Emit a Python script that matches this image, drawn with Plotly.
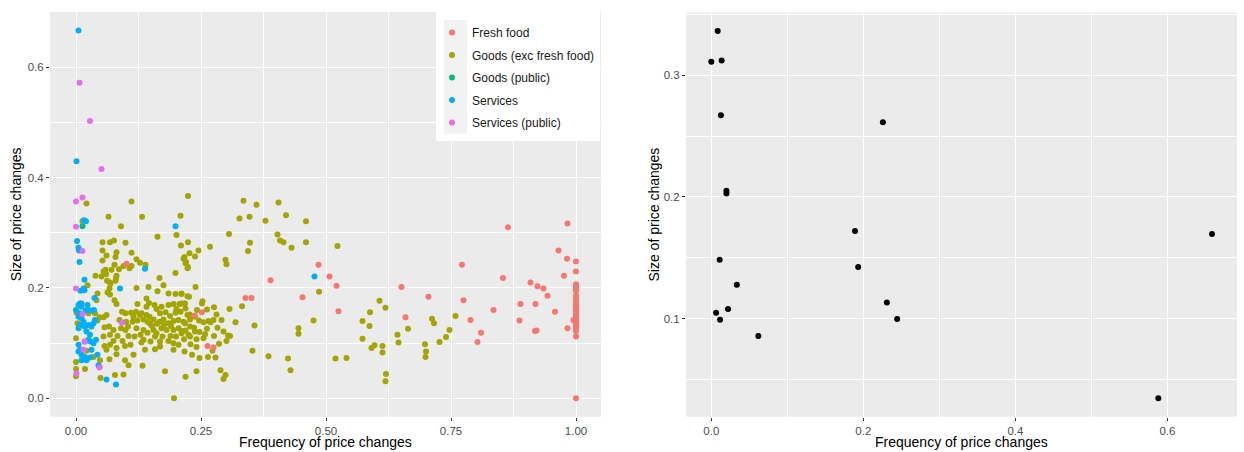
import plotly.graph_objects as go

# ---------------- data ----------------
fresh_pts = [
    (0.101, 0.244), (0.485, 0.242), (0.507, 0.221), (0.389, 0.214), (0.521, 0.204),
    (0.339, 0.182), (0.351, 0.182), (0.453, 0.183), (0.252, 0.156), (0.237, 0.150),
    (0.263, 0.095), (0.275, 0.092), (0.525, 0.158), (0.651, 0.202), (0.659, 0.147),
    (0.705, 0.184), (0.772, 0.242), (0.775, 0.178), (0.789, 0.142), (0.810, 0.119),
    (0.803, 0.102), (0.835, 0.160), (0.854, 0.218), (0.864, 0.310), (0.887, 0.141),
    (0.889, 0.171), (0.909, 0.210), (0.923, 0.203), (0.935, 0.199), (0.943, 0.186),
    (0.919, 0.171), (0.921, 0.123), (0.918, 0.122), (0.958, 0.157), (0.965, 0.268),
    (0.982, 0.253), (0.976, 0.222), (0.983, 0.127), (0.983, 0.317), (0.995, 0.142),
    (1.0, 0.248), (1.0, 0.230), (1.0, 0.207), (1.0, 0.203), (1.0, 0.199), (1.0, 0.195),
    (1.0, 0.186), (1.0, 0.181), (1.0, 0.175), (1.0, 0.169), (1.0, 0.165), (1.0, 0.160),
    (1.0, 0.157), (1.0, 0.152), (1.0, 0.148), (1.0, 0.143), (1.0, 0.139), (1.0, 0.135),
    (1.0, 0.130), (1.0, 0.127), (1.0, 0.122), (1.0, 0.112), (1.0, 0.0),
]

goods_pts = [
    (0.021, 0.353), (0.111, 0.357), (0.224, 0.367), (0.013, 0.321), (0.065, 0.329),
    (0.090, 0.312), (0.132, 0.329), (0.209, 0.331), (0.201, 0.296), (0.224, 0.283),
    (0.163, 0.293), (0.053, 0.283), (0.068, 0.283), (0.076, 0.286), (0.099, 0.282),
    (0.053, 0.268), (0.081, 0.265), (0.079, 0.256), (0.061, 0.259), (0.111, 0.264),
    (0.121, 0.252), (0.128, 0.246), (0.139, 0.242), (0.053, 0.250), (0.077, 0.242),
    (0.071, 0.233), (0.059, 0.233), (0.055, 0.230), (0.086, 0.234), (0.107, 0.236),
    (0.111, 0.240), (0.095, 0.240), (0.039, 0.222), (0.051, 0.221), (0.060, 0.225),
    (0.068, 0.210), (0.080, 0.218), (0.081, 0.222), (0.023, 0.205), (0.121, 0.200),
    (0.145, 0.202), (0.167, 0.218), (0.199, 0.227), (0.175, 0.205), (0.217, 0.256),
    (0.220, 0.247), (0.224, 0.238), (0.215, 0.253), (0.210, 0.277), (0.067, 0.199),
    (0.335, 0.358), (0.361, 0.351), (0.405, 0.355), (0.327, 0.326), (0.347, 0.329),
    (0.379, 0.322), (0.420, 0.332), (0.460, 0.321), (0.306, 0.298), (0.403, 0.297),
    (0.268, 0.275), (0.348, 0.282), (0.408, 0.286), (0.415, 0.283), (0.431, 0.273),
    (0.460, 0.283), (0.523, 0.276), (0.344, 0.267), (0.227, 0.263), (0.245, 0.268),
    (0.238, 0.257), (0.219, 0.245), (0.223, 0.236), (0.299, 0.251), (0.301, 0.243),
    (0.239, 0.202),
    (0.211, 0.189), (0.226, 0.184), (0.211, 0.172), (0.218, 0.172), (0.253, 0.176),
    (0.252, 0.172), (0.486, 0.193), (0.332, 0.167), (0.307, 0.162), (0.281, 0.152),
    (0.227, 0.152), (0.291, 0.142), (0.275, 0.142), (0.265, 0.140), (0.255, 0.138),
    (0.246, 0.141), (0.269, 0.138), (0.319, 0.138), (0.357, 0.132), (0.475, 0.141),
    (0.445, 0.127), (0.445, 0.117), (0.304, 0.114), (0.308, 0.113), (0.301, 0.104),
    (0.276, 0.113), (0.258, 0.116), (0.255, 0.109), (0.241, 0.107), (0.228, 0.112),
    (0.216, 0.107), (0.213, 0.122), (0.238, 0.121), (0.228, 0.130), (0.218, 0.136),
    (0.273, 0.086), (0.353, 0.086), (0.217, 0.085), (0.232, 0.079), (0.247, 0.073),
    (0.264, 0.075), (0.279, 0.074), (0.385, 0.076), (0.424, 0.072), (0.519, 0.072),
    (0.429, 0.051), (0.241, 0.049), (0.289, 0.051), (0.299, 0.042), (0.295, 0.035),
    (0.219, 0.039),
    (0.062, 0.213), (0.079, 0.213), (0.069, 0.208), (0.043, 0.190), (0.063, 0.192),
    (0.068, 0.188), (0.163, 0.194), (0.185, 0.190), (0.199, 0.189), (0.211, 0.190),
    (0.223, 0.185), (0.077, 0.178), (0.081, 0.171), (0.141, 0.181), (0.146, 0.173),
    (0.141, 0.166), (0.123, 0.171), (0.157, 0.169), (0.161, 0.162), (0.171, 0.166),
    (0.185, 0.169), (0.195, 0.171), (0.207, 0.171), (0.217, 0.172), (0.201, 0.162),
    (0.179, 0.156), (0.168, 0.154), (0.001, 0.155), (0.024, 0.161), (0.047, 0.147),
    (0.043, 0.141), (0.055, 0.147), (0.061, 0.151), (0.092, 0.157), (0.099, 0.154),
    (0.110, 0.155), (0.120, 0.157), (0.131, 0.154), (0.141, 0.151), (0.147, 0.148),
    (0.087, 0.142), (0.100, 0.139), (0.104, 0.130), (0.099, 0.124), (0.113, 0.139),
    (0.123, 0.141), (0.135, 0.143), (0.143, 0.139), (0.148, 0.135), (0.155, 0.143),
    (0.167, 0.139), (0.175, 0.143), (0.185, 0.136), (0.195, 0.140), (0.205, 0.142),
    (0.215, 0.139), (0.223, 0.151), (0.209, 0.157), (0.219, 0.163), (0.199, 0.155),
    (0.188, 0.149), (0.171, 0.127), (0.181, 0.124), (0.195, 0.124), (0.205, 0.127),
    (0.211, 0.118), (0.219, 0.123), (0.225, 0.115),
    (0.121, 0.127), (0.135, 0.124), (0.143, 0.119), (0.155, 0.124), (0.161, 0.118),
    (0.135, 0.106), (0.131, 0.101), (0.149, 0.103), (0.168, 0.103), (0.185, 0.104),
    (0.195, 0.100), (0.205, 0.097), (0.168, 0.094), (0.158, 0.089), (0.138, 0.088),
    (0.195, 0.088),
    (0.057, 0.129), (0.066, 0.130), (0.075, 0.124), (0.055, 0.112), (0.068, 0.115),
    (0.057, 0.095), (0.061, 0.088), (0.068, 0.097), (0.081, 0.091), (0.098, 0.095),
    (0.109, 0.097), (0.115, 0.079), (0.098, 0.069), (0.105, 0.060), (0.067, 0.071),
    (0.081, 0.080), (0.133, 0.059), (0.078, 0.042), (0.095, 0.043), (0.049, 0.037),
    (0.178, 0.049), (0.196, 0.000),
    (0.003, 0.136), (0.000, 0.109), (0.000, 0.066), (0.000, 0.053), (0.000, 0.040),
    (0.018, 0.053), (0.021, 0.086), (0.035, 0.075), (0.048, 0.069), (0.041, 0.178),
    (0.025, 0.154), (0.038, 0.154), (0.047, 0.057),
    (0.115, 0.148), (0.128, 0.151), (0.152, 0.131), (0.162, 0.135), (0.176, 0.133),
    (0.190, 0.131), (0.173, 0.112), (0.158, 0.112), (0.189, 0.113), (0.200, 0.112),
    (0.129, 0.115), (0.117, 0.112), (0.090, 0.127), (0.083, 0.113), (0.093, 0.104),
    (0.075, 0.104), (0.105, 0.113), (0.236, 0.128), (0.247, 0.120), (0.262, 0.126),
    (0.283, 0.128), (0.295, 0.121), (0.229, 0.098), (0.241, 0.093), (0.286, 0.099),
    (0.228, 0.143), (0.238, 0.148), (0.262, 0.161), (0.276, 0.165), (0.242, 0.160),
    (0.541, 0.073), (0.607, 0.177), (0.619, 0.164), (0.588, 0.156), (0.573, 0.140),
    (0.587, 0.131), (0.573, 0.108), (0.591, 0.091), (0.597, 0.096), (0.613, 0.095),
    (0.613, 0.083), (0.620, 0.044), (0.619, 0.031), (0.664, 0.126), (0.643, 0.115),
    (0.645, 0.101), (0.712, 0.144), (0.716, 0.136), (0.698, 0.098), (0.700, 0.085),
    (0.699, 0.075), (0.727, 0.102), (0.740, 0.111), (0.747, 0.124), (0.759, 0.149),
]

goods_public_pts = [(0.013, 0.312)]

services_pts = [
    (0.005, 0.667), (0.001, 0.430), (0.016, 0.323), (0.020, 0.321), (0.199, 0.312),
    (0.002, 0.285), (0.005, 0.273), (0.006, 0.268), (0.007, 0.247), (0.138, 0.235),
    (0.017, 0.215), (0.015, 0.199), (0.088, 0.199), (0.477, 0.221), (0.009, 0.195),
    (0.017, 0.196), (0.037, 0.182), (0.011, 0.172), (0.005, 0.169), (0.000, 0.160),
    (0.023, 0.169), (0.020, 0.159), (0.028, 0.159), (0.036, 0.160), (0.061, 0.034),
    (0.080, 0.025), (0.045, 0.060),
    (0.008, 0.172), (0.011, 0.166), (0.008, 0.154), (0.005, 0.148), (0.011, 0.145),
    (0.015, 0.139), (0.009, 0.133), (0.005, 0.127), (0.018, 0.130), (0.025, 0.133),
    (0.031, 0.130), (0.035, 0.136), (0.038, 0.142), (0.021, 0.121), (0.028, 0.115),
    (0.025, 0.106), (0.018, 0.103), (0.005, 0.097), (0.008, 0.088), (0.005, 0.085),
    (0.011, 0.079), (0.018, 0.075), (0.011, 0.069), (0.021, 0.069), (0.028, 0.074),
    (0.031, 0.088), (0.029, 0.103), (0.035, 0.100), (0.040, 0.106), (0.043, 0.079),
]

services_public_pts = [
    (0.007, 0.572), (0.028, 0.503), (0.051, 0.416), (0.013, 0.364), (0.000, 0.357),
    (0.000, 0.311), (0.013, 0.267), (0.000, 0.199), (0.013, 0.153), (0.092, 0.137),
    (0.047, 0.056), (0.001, 0.045), (0.015, 0.088), (0.017, 0.103),
]

right_x = [0.0084, 0.0000, 0.0136, 0.0126, 0.2257, 0.0199, 0.0199, 0.1890, 0.6586, 0.0110,
           0.1932, 0.0335, 0.2309, 0.0220, 0.0063, 0.0115, 0.2445, 0.0618, 0.5880]
right_y = [0.3364, 0.3110, 0.3120, 0.2672, 0.2614, 0.2051, 0.2029, 0.1720, 0.1695, 0.1484,
           0.1424, 0.1279, 0.1134, 0.1079, 0.1049, 0.0992, 0.0997, 0.0858, 0.0346]

left_xticks = [0, 0.25, 0.5, 0.75, 1.0]
left_xticktext = ["0.00", "0.25", "0.50", "0.75", "1.00"]
left_yticks = [0.0, 0.2, 0.4, 0.6]
left_yticktext = ["0.0", "0.2", "0.4", "0.6"]
right_xticks = [0.0, 0.2, 0.4, 0.6]
right_xticktext = ["0.0", "0.2", "0.4", "0.6"]
right_yticks = [0.1, 0.2, 0.3]
right_yticktext = ["0.1", "0.2", "0.3"]

# ---------------- figure ----------------
W, H = 1244, 452
FONT = "Liberation Sans, Arial, sans-serif"
PANEL = "#EBEBEB"

series = [
    ("Goods (exc fresh food)", goods_pts, "#A3A500", 2),
    ("Fresh food", fresh_pts, "#F8766D", 1),
    ("Goods (public)", goods_public_pts, "#00BF7D", 3),
    ("Services", services_pts, "#00B0F6", 4),
    ("Services (public)", services_public_pts, "#E76BF3", 5),
]

fig = go.Figure()
for name, pts, col, rank in series:
    fig.add_trace(go.Scatter(
        x=[p[0] for p in pts], y=[p[1] for p in pts], mode="markers", name=name,
        marker=dict(color=col, size=6, line=dict(width=0)),
        legendrank=rank, legendgroup=name, xaxis="x", yaxis="y",
    ))

fig.add_trace(go.Scatter(
    x=right_x, y=right_y, mode="markers", showlegend=False,
    marker=dict(color="black", size=6, line=dict(width=0)),
    xaxis="x2", yaxis="y2",
))

def px(x):
    return x / W

def py(y):
    return 1 - y / H

axis_common = dict(
    showline=False, zeroline=False, ticks="outside", ticklen=3, tickwidth=1,
    tickcolor="#333333", gridcolor="white", gridwidth=1.1, showgrid=True,
    tickfont=dict(family=FONT, size=11.5, color="#4D4D4D"), automargin=False,
    fixedrange=True,
)

R0, R1 = 686, 1237  # right panel pixel extent
L0, L1 = 50, 601

fig.update_layout(
    width=W, height=H, margin=dict(l=0, r=0, t=0, b=0),
    paper_bgcolor="white", plot_bgcolor=PANEL,
    font=dict(family=FONT),
    xaxis=dict(domain=[px(L0), px(L1)], range=[-0.052, 1.05], anchor="y",
               tickmode="array", tickvals=left_xticks, ticktext=left_xticktext,
               minor=dict(tickvals=[0.125, 0.375, 0.625, 0.875], showgrid=True,
                          gridcolor="white", gridwidth=0.5, ticklen=0),
               **axis_common),
    yaxis=dict(domain=[py(416.7), py(12)], range=[-0.0334, 0.7005], anchor="x",
               tickmode="array", tickvals=left_yticks, ticktext=left_yticktext,
               minor=dict(tickvals=[0.1, 0.3, 0.5], showgrid=True,
                          gridcolor="white", gridwidth=0.5, ticklen=0),
               **axis_common),
    xaxis2=dict(domain=[px(R0), px(R1)], range=[-0.0333, 0.6915], anchor="y2",
                tickmode="array", tickvals=right_xticks, ticktext=right_xticktext,
                minor=dict(tickvals=[0.1, 0.3, 0.5], showgrid=True,
                           gridcolor="white", gridwidth=0.5, ticklen=0),
                **axis_common),
    yaxis2=dict(domain=[py(416.7), py(12.5)], range=[0.0195, 0.3515], anchor="x2",
                tickmode="array", tickvals=right_yticks, ticktext=right_yticktext,
                minor=dict(tickvals=[0.05, 0.15, 0.25, 0.35], showgrid=True,
                           gridcolor="white", gridwidth=0.5, ticklen=0),
                **axis_common),
    showlegend=True,
    legend=dict(x=px(432), y=py(18), xanchor="left", yanchor="top",
                bgcolor="rgba(0,0,0,0)", borderwidth=0,
                font=dict(family=FONT, size=12, color="#1A1A1A"),
                tracegroupgap=3.5),
)

# legend background (white box + grey key column)
fig.add_shape(type="rect", xref="paper", yref="paper", layer="above",
              x0=px(436), x1=px(600), y0=py(141), y1=py(12),
              fillcolor="white", line=dict(width=0))
fig.add_shape(type="rect", xref="paper", yref="paper", layer="above",
              x0=px(444), x1=px(467), y0=py(134), y1=py(20),
              fillcolor="#F2F2F2", line=dict(width=0))

title_font = dict(family=FONT, size=14, color="black")
fig.add_annotation(text="Frequency of price changes", xref="paper", yref="paper",
                   x=px((L0 + L1) / 2), y=py(451), xanchor="center", yanchor="bottom",
                   showarrow=False, font=title_font, borderpad=0)
fig.add_annotation(text="Frequency of price changes", xref="paper", yref="paper",
                   x=px((R0 + R1) / 2), y=py(451), xanchor="center", yanchor="bottom",
                   showarrow=False, font=title_font, borderpad=0)
fig.add_annotation(text="Size of price changes", xref="paper", yref="paper",
                   x=px(16), y=py(214.3), xanchor="center", yanchor="middle",
                   textangle=-90, showarrow=False, font=title_font)
fig.add_annotation(text="Size of price changes", xref="paper", yref="paper",
                   x=px(653), y=py(214.5), xanchor="center", yanchor="middle",
                   textangle=-90, showarrow=False, font=title_font)

fig.write_html("out.html")
